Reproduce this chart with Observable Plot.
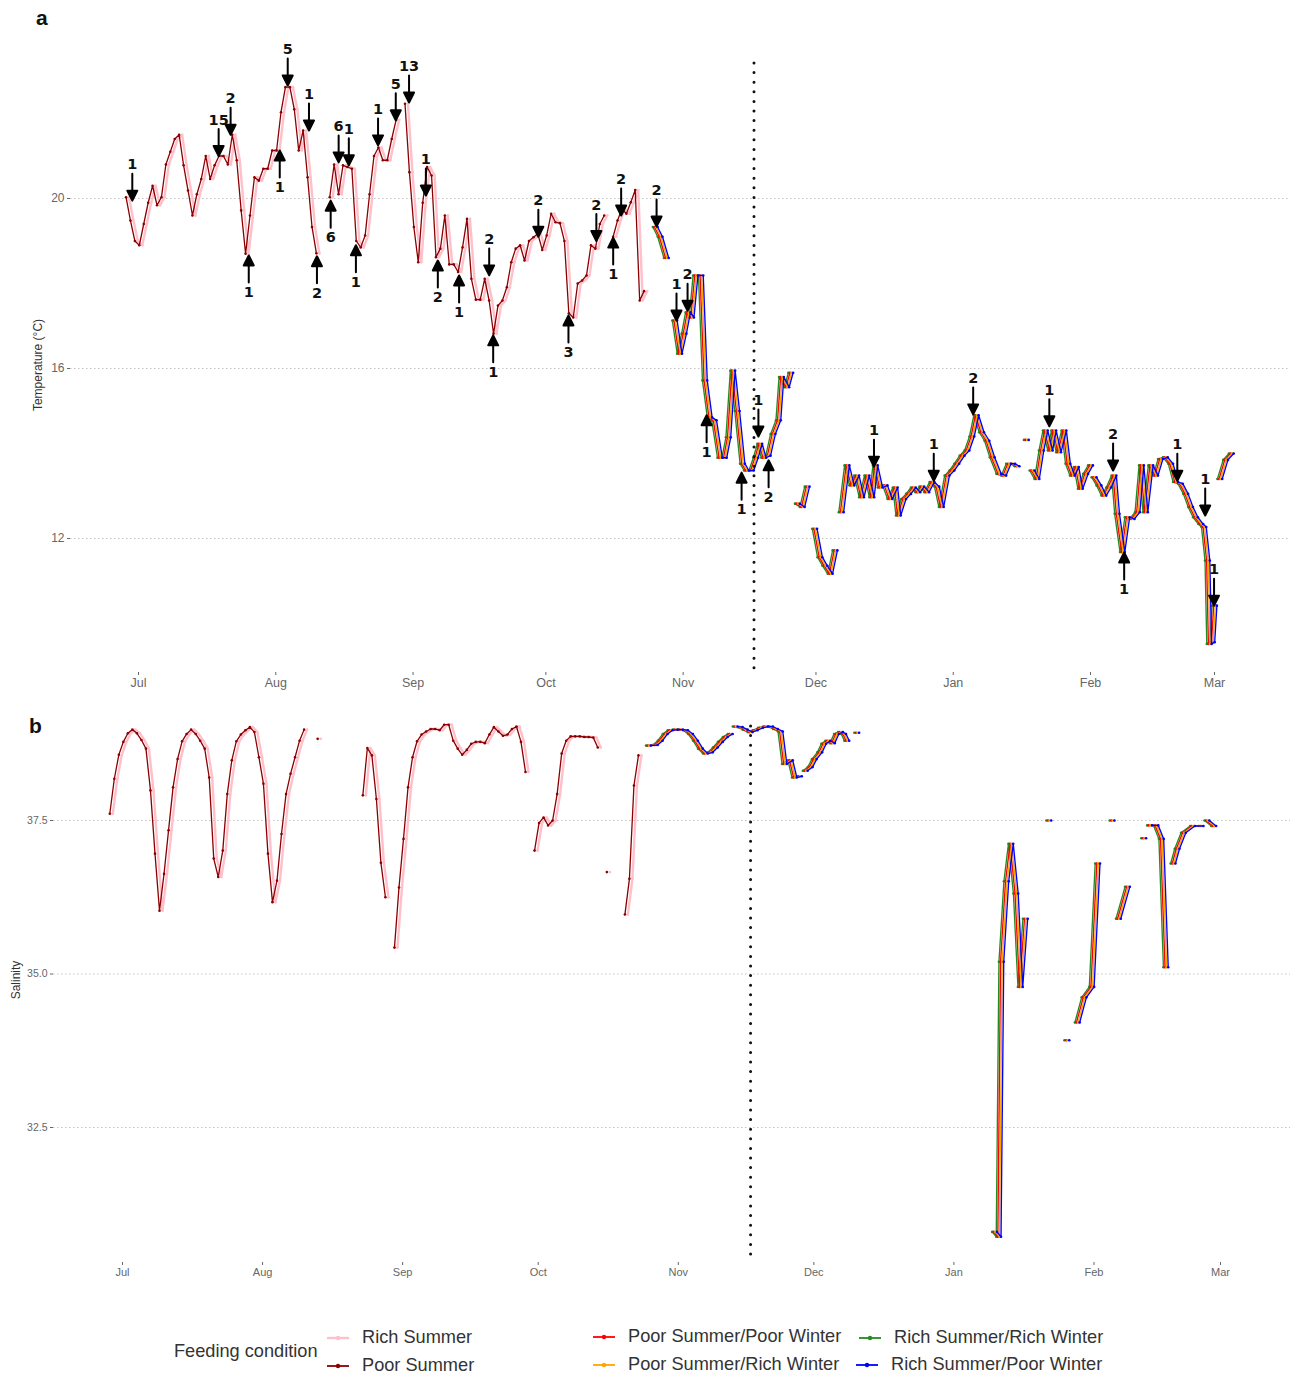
<!DOCTYPE html>
<html><head><meta charset="utf-8">
<script src="https://cdn.jsdelivr.net/npm/d3@7"></script>
<script src="https://cdn.jsdelivr.net/npm/@observablehq/plot@0.6"></script>
<style>
body{margin:0;background:#fff;font-family:"Liberation Sans",Arial,sans-serif;}
#wrap{position:relative;width:1296px;height:1378px;overflow:hidden;}
.abs{position:absolute;white-space:nowrap;}
.panel{position:absolute;left:0;}
.rot{transform:translate(-50%,-50%) rotate(-90deg);font-size:12px;color:#333;}
.plab{font-weight:bold;font-size:21px;color:#111;font-family:"Liberation Sans",Arial,sans-serif;}
.leg{font-size:18.2px;color:#333;}
</style></head><body><div id="wrap"></div><script>
// ---------- data ----------
const monthTicks = ["2021-07-01","2021-08-01","2021-09-01","2021-10-01","2021-11-01","2021-12-01","2022-01-01","2022-02-01","2022-03-01"];
const monthLabels = ["Jul","Aug","Sep","Oct","Nov","Dec","Jan","Feb","Mar"];
const tempTicks = [12,16,20];
const salTicks = [32.5,35.0,37.5];
const seriesNames = ["Rich Summer","Poor Summer","Poor Summer/Poor Winter","Poor Summer/Rich Winter","Rich Summer/Rich Winter","Rich Summer/Poor Winter"];
const seriesColors = ["#ffc0cb","#8b0000","#ff0000","#ffa500","#228b22","#0000ff"];
const transferDate = "2021-11-17";

// summer daily series (starting date, one value per day, null = no data)
const summerStart = "2021-06-28";
const tempSummer = [20.03,19.48,19.0,18.9,19.4,19.9,20.3,19.84,20.03,20.8,21.1,21.4,21.5,20.78,20.19,19.6,20.1,20.46,21.0,20.46,20.78,21.0,21.0,20.8,21.5,20.9,19.72,18.7,19.6,20.5,20.42,20.7,20.7,21.13,21.13,22.03,22.62,22.62,22.1,21.13,21.6,20.5,19.33,18.71,null,null,20.03,20.8,20.1,20.78,20.74,20.7,19.0,18.85,19.13,20.1,21.0,21.2,20.9,20.9,21.4,21.85,null,22.23,20.62,19.33,18.5,19.9,20.74,20.54,18.62,18.82,19.6,18.45,18.45,18.27,18.85,19.52,18.11,17.62,17.62,18.11,17.6,16.82,17.48,17.6,17.91,18.5,18.82,18.9,18.54,19.0,19.09,19.17,18.79,19.13,19.64,19.44,19.42,19.0,17.3,17.2,18.0,18.07,18.19,18.9,18.82,19.4,19.6,null,19.1,19.48,19.76,19.64,19.91,20.2,17.6,17.82];
const salSummer = [37.61,38.18,38.57,38.78,38.92,38.98,38.92,38.81,38.67,37.99,36.96,36.03,36.63,37.34,38.04,38.5,38.79,38.91,38.98,38.91,38.8,38.67,38.2,36.88,36.58,37.01,37.93,38.48,38.79,38.9,38.97,39.02,38.94,38.53,38.1,36.96,36.17,36.52,37.28,37.93,38.26,38.53,38.8,38.98,null,null,38.83,null,null,null,null,null,null,null,null,null,37.91,38.68,38.56,37.85,36.81,36.25,null,35.43,36.41,37.2,38.04,38.53,38.79,38.9,38.95,38.99,38.99,38.97,39.06,39.06,38.8,38.67,38.57,38.65,38.75,38.78,38.78,38.76,38.9,39.02,38.95,38.88,38.9,38.99,39.03,38.78,38.29,null,37.01,37.46,37.55,37.42,37.5,37.93,38.59,38.8,38.87,38.87,38.87,38.86,38.86,38.85,38.69,null,36.66,null,null,null,35.97,36.55,38.07,38.56];

// winter series: days since 1 Jul 2021, value (null = break)
const tempWinterDay = [116.7,117.8,119.2,119.9,121.1,122.2,123.2,124.1,124.9,125.8,127.0,127.9,129.0,130.0,131.3,132.3,133.2,134.2,135.2,136.4,137.3,138.4,139.4,140.3,141.2,142.2,143.3,144.5,145.2,146.4,147.3,148.0,148.8,149.9,151.0,152.0,152.7,153.9,155.0,156.2,157.3,158.0,158.7,160.0,161.1,162.2,163.3,164.5,165.6,166.4,167.5,168.6,169.7,170.9,171.6,172.8,173.9,175.0,176.0,176.9,178.0,179.2,180.3,181.3,182.6,183.7,184.8,186.0,187.1,188.2,189.2,190.4,191.6,192.8,194.3,195.4,196.5,197.4,198.4,199.6,200.5,201.2,201.8,202.9,203.9,204.8,205.9,206.7,207.8,209.0,209.9,210.9,211.8,212.7,213.9,215.0,215.4,215.8,216.9,218.0,219.1,220.3,221.0,222.2,223.3,224.4,225.6,226.5,227.4,228.6,229.7,230.8,231.9,233.1,234.2,235.3,236.5,237.6,238.7,239.9,240.6,241.4,241.8,242.5,243.0,243.6,244.2,245.5,246.8];
const tempWinter = [19.33,19.1,18.6,null,17.13,16.35,16.82,17.32,17.2,18.19,18.19,15.72,14.85,14.78,13.9,13.9,14.38,15.95,15.0,13.76,13.6,13.6,13.9,14.23,13.9,13.95,14.46,14.78,15.8,15.56,15.9,null,12.82,12.74,13.22,null,12.23,11.56,11.36,11.17,11.72,null,12.62,13.72,13.25,13.48,12.97,13.48,12.97,13.72,13.2,13.25,12.93,13.2,12.54,12.93,13.05,13.2,13.09,13.22,13.09,13.33,13.22,12.74,13.48,13.6,13.76,13.95,14.07,14.4,14.9,14.5,14.3,13.91,13.52,13.48,13.76,13.76,13.7,null,14.32,null,13.6,13.4,14.07,14.54,14.07,14.54,14.03,14.54,13.76,13.48,13.68,13.17,13.52,13.72,null,13.44,13.25,13.01,13.2,13.48,12.58,11.68,12.5,12.46,12.62,13.72,12.62,13.72,13.48,13.87,13.91,13.76,13.33,13.29,13.05,12.74,12.5,12.34,12.27,11.48,9.52,9.56,10.42,null,13.4,13.85,14.0];
const salWinterDay = [116.4,117.9,119.0,120.1,121.2,122.3,123.5,124.6,125.7,126.8,127.9,129.0,130.1,131.2,132.3,133.4,134.5,135.0,135.6,136.7,137.8,138.9,140.0,141.2,142.3,143.4,144.5,145.6,146.5,147.8,148.7,149.8,150.4,151.1,152.2,153.1,154.3,155.2,156.1,157.1,158.0,158.9,159.6,160.3,161.4,162.5,163.5,193.0,193.9,194.5,195.6,196.6,197.7,198.7,199.8,202.0,205.0,207.0,209.0,210.3,211.3,212.8,214.5,215.8,217.0,219.0,219.8,220.4,222.4,224.0,226.0,226.7,227.3,228.7,229.9,230.9,231.8,232.5,233.4,234.8,236.8,238.7,239.4,240.0,241.5];
const salWinter = [38.72,38.73,38.8,38.91,38.97,38.98,38.98,38.97,38.91,38.8,38.67,38.59,38.61,38.69,38.78,38.86,38.91,null,39.03,39.02,38.98,38.94,38.97,39.01,39.03,39.03,38.99,38.95,38.42,38.48,38.2,38.22,null,38.31,38.37,38.5,38.61,38.75,38.8,38.76,38.91,38.94,38.91,38.8,null,38.93,null,30.8,30.72,35.2,36.51,37.12,36.31,34.79,35.9,null,37.5,null,33.92,null,34.21,34.62,34.79,36.8,null,37.5,null,35.9,36.42,null,37.21,null,37.42,37.42,37.2,35.11,null,36.8,37.04,37.3,37.41,37.41,null,37.5,37.41];

// annotations on panel a: days since 1 Jul 2021, temperature at arrow tip, label, direction
const arrowDay = [-1.4,18.1,20.8,33.7,38.5,45.2,47.5,54.1,58.1,61.1,64.9,79.2,90.3,103.4,109.0,117.0,121.5,124.0,140.0,166.1,179.6,188.5,205.7,220.1,234.6,240.9,242.9,24.9,31.9,40.3,43.4,49.1,67.6,72.4,80.1,97.1,107.2,128.3,136.2,142.3,222.6];
const arrowTemp = [19.95,21.0,21.5,22.66,21.6,20.85,20.78,21.25,21.84,22.26,20.07,18.19,19.1,19.0,19.6,19.34,17.13,17.36,14.4,13.69,13.36,14.92,14.64,13.6,13.36,12.54,10.42,18.66,21.13,18.64,19.95,18.9,18.54,18.19,16.78,17.25,19.08,14.9,13.55,13.84,11.67];
const arrowLabel = ["1","15","2","5","1","6","1","1","5","13","1","2","2","2","2","2","1","2","1","1","1","2","1","2","1","1","1","1","1","2","6","1","2","1","1","3","1","1","1","2","1"];
const arrowDir = ["down","down","down","down","down","down","down","down","down","down","down","down","down","down","down","down","down","down","down","down","down","down","down","down","down","down","down","up","up","up","up","up","up","up","up","up","up","up","up","up","up"];

// ---------- helpers ----------
const DAY = 864e5;
const T0 = Date.UTC(2021, 6, 1);
const dayDate = d => new Date(T0 + d * DAY);
const xTicks = monthTicks.map(s => new Date(s + "T00:00:00Z"));
const fmtMonth = d => monthLabels[xTicks.findIndex(t => +t === +d)];
function dailyRows(start, values) {
  const s = Date.parse(start + "T12:00:00Z");
  return values.map((v, i) => ({date: new Date(s + i * DAY), v}));
}
function pairRows(days, values) { return days.map((d, i) => ({date: dayDate(d), v: values[i]})); }
const def = r => r.v != null;

const tS = dailyRows(summerStart, tempSummer);
const sS = dailyRows(summerStart, salSummer);
const tW = pairRows(tempWinterDay, tempWinter);
const sW = pairRows(salWinterDay, salWinter);
const arrows = arrowDay.map((d, i) => ({date: dayDate(d), v: arrowTemp[i], label: arrowLabel[i], dir: arrowDir[i]}));

// dodge offsets (pixels) for each series
const dodge = [1.6, -1.4, -0.8, 0.8, -2.4, 2.4];
const winterOrder = [4, 2, 3, 5];

const filledArrow = {
  draw(ctx, l) {
    const h = 10, w = 5;
    ctx.moveTo(0, 0);
    ctx.lineTo(0, -l + h);
    ctx.moveTo(-w, -l + h);
    ctx.lineTo(0, -l);
    ctx.lineTo(w, -l + h);
    ctx.closePath();
  }
};

function seriesMarks(summer, winter) {
  const m = [
    Plot.line(summer, {x: "date", y: "v", stroke: seriesColors[0], strokeWidth: 2.4, dx: dodge[0]}),
    Plot.dot(summer.filter(def), {x: "date", y: "v", fill: seriesColors[0], r: 1.3, dx: dodge[0]}),
    Plot.line(summer, {x: "date", y: "v", stroke: seriesColors[1], strokeWidth: 1.3, dx: dodge[1]}),
    Plot.dot(summer.filter(def), {x: "date", y: "v", fill: seriesColors[1], r: 1.3, dx: dodge[1]})
  ];
  for (const k of winterOrder) {
    m.push(Plot.line(winter, {x: "date", y: "v", stroke: seriesColors[k], strokeWidth: 1.35, dx: dodge[k]}));
    m.push(Plot.dot(winter.filter(def), {x: "date", y: "v", fill: seriesColors[k], r: 1.3, dx: dodge[k]}));
  }
  return m;
}

const common = {
  width: 1296,
  marginLeft: 70, marginRight: 6,
  style: {fontFamily: "Liberation Sans, Arial, sans-serif", background: "transparent"}
};

// ---------- panel a ----------
const plotA = Plot.plot({
  ...common,
  height: 700, marginTop: 63, marginBottom: 28,
  x: {type: "utc", domain: [xTicks[0], xTicks[8]], range: [138, 1214], label: null},
  y: {domain: [12, 20], range: [538, 198], label: null},
  marks: [
    Plot.gridY(tempTicks, {stroke: "#c4c4c4", strokeDasharray: "1.5,2.5", strokeOpacity: 1}),
    ...seriesMarks(tS, tW),
    Plot.ruleX([new Date(transferDate + "T00:00:00Z")], {stroke: "#111", strokeWidth: 3, strokeDasharray: "0,9.6", strokeLinecap: "round"}),
    Plot.vector(arrows.filter(d => d.dir === "down"), {x: "date", y: "v", length: 27, rotate: 180, anchor: "end", shape: filledArrow, stroke: "#000", fill: "#000", strokeWidth: 2}),
    Plot.vector(arrows.filter(d => d.dir === "up"), {x: "date", y: "v", length: 27, rotate: 0, anchor: "end", shape: filledArrow, stroke: "#000", fill: "#000", strokeWidth: 2}),
    Plot.text(arrows.filter(d => d.dir === "down"), {x: "date", y: "v", text: "label", dy: -36, fontWeight: "bold", fontSize: 14.5, fontFamily: "DejaVu Sans", fill: "#111"}),
    Plot.text(arrows.filter(d => d.dir === "up"), {x: "date", y: "v", text: "label", dy: 37, fontWeight: "bold", fontSize: 14.5, fontFamily: "DejaVu Sans", fill: "#111"}),
    Plot.axisX(xTicks, {tickFormat: fmtMonth, tickSize: 3, tickPadding: 3, fontSize: 12.5, color: "#666", label: null}),
    Plot.axisY(tempTicks, {tickFormat: d => String(d), tickSize: 3, tickPadding: 3, fontSize: 12, color: "#666", label: null})
  ]
});

// ---------- panel b ----------
const plotB = Plot.plot({
  ...common,
  marginLeft: 53,
  height: 590, marginTop: 26, marginBottom: 28,
  x: {type: "utc", domain: [xTicks[0], xTicks[8]], range: [122, 1220], label: null},
  y: {domain: [32.5, 37.5], range: [427, 120], label: null},
  marks: [
    Plot.gridY(salTicks, {stroke: "#c4c4c4", strokeDasharray: "1.5,2.5", strokeOpacity: 1}),
    ...seriesMarks(sS, sW),
    Plot.ruleX([new Date(transferDate + "T00:00:00Z")], {stroke: "#111", strokeWidth: 3, strokeDasharray: "0,9.6", strokeLinecap: "round"}),
    Plot.axisX(xTicks, {tickFormat: fmtMonth, tickSize: 3, tickPadding: 3, fontSize: 11, color: "#666", label: null}),
    Plot.axisY(salTicks, {tickFormat: d => d.toFixed(1), tickSize: 3, tickPadding: 3, fontSize: 10.5, color: "#666", label: null})
  ]
});

// ---------- layout ----------
const wrap = document.getElementById("wrap");
plotA.classList.add("panel"); plotA.style.top = "0px";
plotB.classList.add("panel"); plotB.style.top = "700px";
wrap.appendChild(plotA);
wrap.appendChild(plotB);

function addDiv(html, cls, left, top, extra) {
  const d = document.createElement("div");
  d.className = "abs " + cls;
  d.style.left = left + "px"; d.style.top = top + "px";
  if (extra) Object.assign(d.style, extra);
  d.textContent = html;
  wrap.appendChild(d);
  return d;
}
addDiv("a", "plab", 36, 6);
addDiv("b", "plab", 29, 714);
addDiv("Temperature (°C)", "rot", 38, 365);
addDiv("Salinity", "rot", 16, 980);

// legend
addDiv("Feeding condition", "leg", 174, 1341);
const legendPos = [[326, 1338], [326, 1366], [592, 1337], [592, 1365], [858, 1338], [855, 1365]];
seriesNames.forEach((name, i) => {
  const [lx, ly] = legendPos[i];
  const ns = "http://www.w3.org/2000/svg";
  const svg = document.createElementNS(ns, "svg");
  svg.setAttribute("width", 24); svg.setAttribute("height", 10);
  svg.style.position = "absolute"; svg.style.left = lx + "px"; svg.style.top = (ly - 5) + "px";
  const line = document.createElementNS(ns, "line");
  line.setAttribute("x1", 1); line.setAttribute("x2", 23); line.setAttribute("y1", 5); line.setAttribute("y2", 5);
  line.setAttribute("stroke", seriesColors[i]); line.setAttribute("stroke-width", i === 0 ? 2.4 : 1.8);
  const c = document.createElementNS(ns, "circle");
  c.setAttribute("cx", 12); c.setAttribute("cy", 5); c.setAttribute("r", 2.2); c.setAttribute("fill", seriesColors[i]);
  svg.appendChild(line); svg.appendChild(c);
  wrap.appendChild(svg);
  addDiv(name, "leg", lx + 36, ly - 11);
});
</script></body></html>
